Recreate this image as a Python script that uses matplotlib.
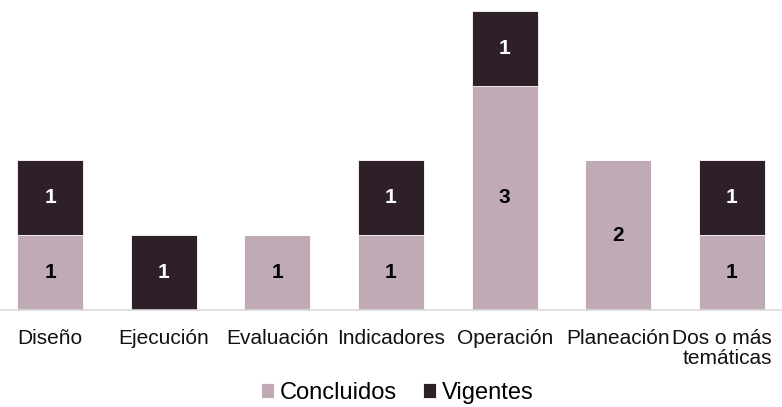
import matplotlib.pyplot as plt
from matplotlib.transforms import ScaledTranslation

categories = ["Diseño", "Ejecución", "Evaluación", "Indicadores",
              "Operación", "Planeación", "Dos o más\ntemáticas"]
concluidos = [1, 0, 1, 1, 3, 2, 1]
vigentes = [1, 1, 0, 1, 1, 0, 1]

plt.rcParams['font.family'] = ['Liberation Sans', 'DejaVu Sans']

fig = plt.figure(figsize=(7.82, 4.07), dpi=100)
ax = fig.add_axes([0, 0.2383, 1, 0.735])

x = range(len(categories))
light = '#bfaab6'
dark = '#2f1f28'
b1 = ax.bar(x, concluidos, width=0.58, color=light, edgecolor='white', linewidth=0.6, label='Concluidos')
b2 = ax.bar(x, vigentes, width=0.58, bottom=concluidos, color=dark, edgecolor='white', linewidth=0.6, label='Vigentes')

# etiquetas de valor
for i in x:
    if concluidos[i] > 0:
        ax.text(i, concluidos[i] / 2, str(concluidos[i]), ha='center', va='center',
                fontsize=15, fontweight='bold', color='black')
    if vigentes[i] > 0:
        ax.text(i, concluidos[i] + vigentes[i] / 2, str(vigentes[i]), ha='center', va='center',
                fontsize=15, fontweight='bold', color='white')

ax.set_xlim(-0.44, 6.44)
ax.set_ylim(0, 4)
ax.set_xticks(list(x))
ax.set_xticklabels(categories, fontsize=15, color='#111111', multialignment='right',
                   linespacing=1.05)
ax.tick_params(axis='x', length=0, pad=14)
# la ultima etiqueta se corre a la izquierda para caber en la figura
last = ax.get_xticklabels()[-1]
last.set_transform(last.get_transform() + ScaledTranslation(-0.1, 0, fig.dpi_scale_trans))
ax.set_yticks([])
for s in ['top', 'right', 'left']:
    ax.spines[s].set_visible(False)
ax.spines['bottom'].set_color('#d9d9d9')
ax.spines['bottom'].set_linewidth(1.2)

fig.legend(handles=[b1, b2], loc='center', bbox_to_anchor=(0.508, 0.035), ncol=2,
           frameon=False, fontsize=17, handlelength=0.55, handleheight=0.55,
           handletextpad=0.25, columnspacing=1.1, borderpad=0.2)

fig.savefig('out.png', dpi=100)
